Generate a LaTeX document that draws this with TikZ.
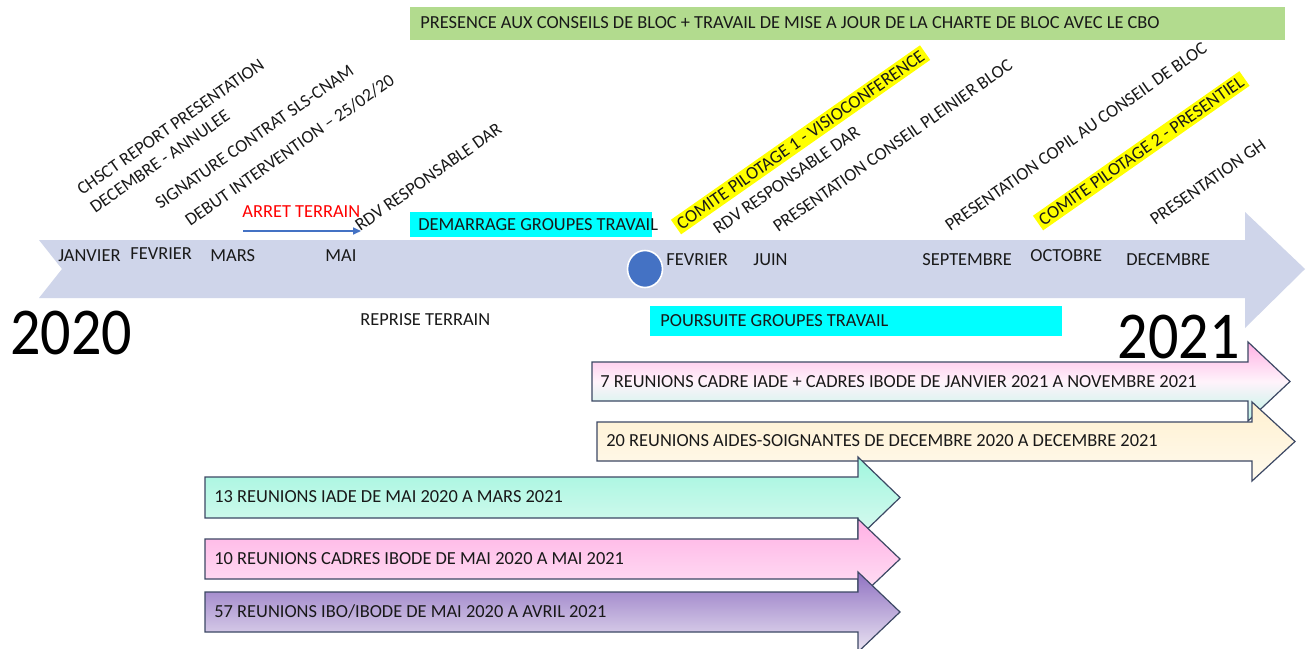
\documentclass[tikz,border=0pt]{standalone}
\usepackage{fontspec}
\setmainfont{Carlito}
\usetikzlibrary{arrows.meta,shapes.geometric}
\definecolor{bandc}{RGB}{207,213,234}
\definecolor{greenbar}{RGB}{178,219,142}
\definecolor{cyanc}{RGB}{0,255,255}
\definecolor{yell}{RGB}{255,255,0}
\definecolor{dotblue}{RGB}{68,114,196}
\definecolor{edgec}{RGB}{60,72,100}
\definecolor{txt}{RGB}{25,25,25}
\definecolor{pinkA}{RGB}{255,176,228}
\definecolor{pinkB}{RGB}{255,228,246}
\definecolor{mintA}{RGB}{160,246,222}
\definecolor{mintB}{RGB}{218,250,240}
\definecolor{mintC}{RGB}{190,244,230}
\definecolor{creamA}{RGB}{255,240,208}
\definecolor{creamB}{RGB}{255,250,238}
\definecolor{purpA}{RGB}{144,114,194}
\definecolor{purpB}{RGB}{234,228,242}
\pgfdeclareverticalshading{pinkmint}{100bp}{color(0bp)=(mintC); color(25bp)=(mintC); color(50bp)=(white!85!pinkA); color(75bp)=(pinkA); color(100bp)=(pinkA)}
\newcommand\lblfont{\fontsize{9.2}{11}\selectfont}
\newcommand\rotfont{\fontsize{9}{11}\selectfont}
\newcommand\blockarr[6]{%
  \shade[#6] (#1,#4) -- (#2,#4) -- (#2,#4-20) -- (#3,{(#4+#5)/2}) -- (#2,#5+20) -- (#2,#5) -- (#1,#5) -- cycle;}
\begin{document}
\begin{tikzpicture}[x=0.5pt,y=-0.5pt,
  lbl/.style={inner sep=0pt, font=\lblfont, text=txt},
  rot/.style={lbl, font=\rotfont, rotate=35, anchor=base west},
  hl/.style={rot, fill=yell, inner sep=1.5pt},
  barr/.style={draw=edgec, line width=0.6pt},
  big/.style={inner sep=0pt, font=\fontsize{31}{31}\selectfont}]
\useasboundingbox (0,0) rectangle (1310,648);
\fill[white] (0,0) rectangle (1310,648);

% top green bar
\fill[greenbar] (410,7) rectangle (1285,40);
\node[lbl, anchor=west] (presence) at (420,23) {PRESENCE AUX CONSEILS DE BLOC + TRAVAIL DE MISE A JOUR DE LA CHARTE DE BLOC AVEC LE CBO};

% timeline band
\fill[bandc] (39,240) -- (1245,240) -- (1245,212) -- (1305,269) -- (1245,328) -- (1245,298) -- (39,298) -- (62,269) -- cycle;

% months
\node[lbl, anchor=west] (jan) at (58,256) {JANVIER};
\node[lbl, anchor=west] (fev) at (130,254) {FEVRIER};
\node[lbl, anchor=west] (mars) at (210,256) {MARS};
\node[lbl, anchor=west] (mai) at (325,256) {MAI};
\node[lbl, anchor=west] (fev2) at (666,260) {FEVRIER};
\node[lbl, anchor=west] (juin) at (753,260) {JUIN};
\node[lbl, anchor=west] (sept) at (922,260) {SEPTEMBRE};
\node[lbl, anchor=west] (oct) at (1030,256) {OCTOBRE};
\node[lbl, anchor=west] (dec) at (1126,260) {DECEMBRE};

% dot
\node[ellipse, fill=dotblue, draw=white, line width=0.8pt, minimum width=17.5pt, minimum height=18.5pt, inner sep=0pt] (dot) at (645,269) {};

% rotated labels
\node[rot] (chsct) at (82,196) {CHSCT REPORT PRESENTATION};
\node[rot] (decann) at (95,214) {DECEMBRE - ANNULEE};
\node[rot] (sign) at (160,210) {SIGNATURE CONTRAT SLS-CNAM};
\node[rot] (debut) at (190,227) {DEBUT INTERVENTION -- 25/02/20};
\node[rot] (rdv1) at (360,232) {RDV RESPONSABLE DAR};
\node[hl] (copil1) at (679,232) {COMITE PILOTAGE 1 - VISIOCONFERENCE};
\node[rot] (rdv2) at (718,235) {RDV RESPONSABLE DAR};
\node[rot] (pleinier) at (778,233) {PRESENTATION CONSEIL PLEINIER BLOC};
\node[rot] (prcopil) at (950,232) {PRESENTATION COPIL AU CONSEIL DE BLOC};
\node[hl] (copil2) at (1041,228) {COMITE PILOTAGE 2 - PRESENTIEL};
\node[rot] (gh) at (1155,226) {PRESENTATION GH};

% arret terrain
\node[lbl, anchor=west, text=red] (arret) at (242,212) {ARRET TERRAIN};
\coordinate (arA) at (243,231);
\coordinate (arB) at (361,231);
\draw[dotblue, line width=0.8pt, -{Triangle[length=4pt,width=3.5pt]}] (arA) -- (arB);

% cyan boxes
\fill[cyanc] (410,212) rectangle (652,237);
\node[lbl, anchor=west] (demarr) at (418,224.5) {DEMARRAGE GROUPES TRAVAIL};
\fill[cyanc] (650,306) rectangle (1062,336);
\node[lbl, anchor=west] (pours) at (660,321) {POURSUITE GROUPES TRAVAIL};
\node[lbl, anchor=west] (reprise) at (360,320) {REPRISE TERRAIN};

% years
\node[big, anchor=west] (y2020) at (10,333) {\scalebox{0.97}[1.08]{2020}};
\node[big, anchor=east] (y2021) at (1240,337) {\scalebox{0.97}[1.08]{2021}};

% block arrows
\blockarr{592}{1248}{1290}{362}{401}{barr, shading=pinkmint}
\node[lbl, anchor=west] (a1) at (600,382) {7 REUNIONS CADRE IADE + CADRES IBODE DE JANVIER 2021 A NOVEMBRE 2021};
\blockarr{597}{1252}{1295}{422}{461}{barr, top color=creamA, bottom color=creamB}
\node[lbl, anchor=west] (a2) at (606,441) {20 REUNIONS AIDES-SOIGNANTES DE DECEMBRE 2020 A DECEMBRE 2021};
\blockarr{205}{858}{900}{477}{518}{barr, top color=mintA, bottom color=mintB}
\node[lbl, anchor=west] (a3) at (214,497) {13 REUNIONS IADE DE MAI 2020 A MARS 2021};
\blockarr{205}{858}{900}{539}{579}{barr, top color=pinkA, bottom color=pinkB}
\node[lbl, anchor=west] (a4) at (214,559) {10 REUNIONS CADRES IBODE DE MAI 2020 A MAI 2021};
\blockarr{205}{858}{900}{592}{632}{barr, top color=purpA, bottom color=purpB}
\node[lbl, anchor=west] (a5) at (214,611) {57 REUNIONS IBO/IBODE DE MAI 2020 A AVRIL 2021};
\end{tikzpicture}
\end{document}
